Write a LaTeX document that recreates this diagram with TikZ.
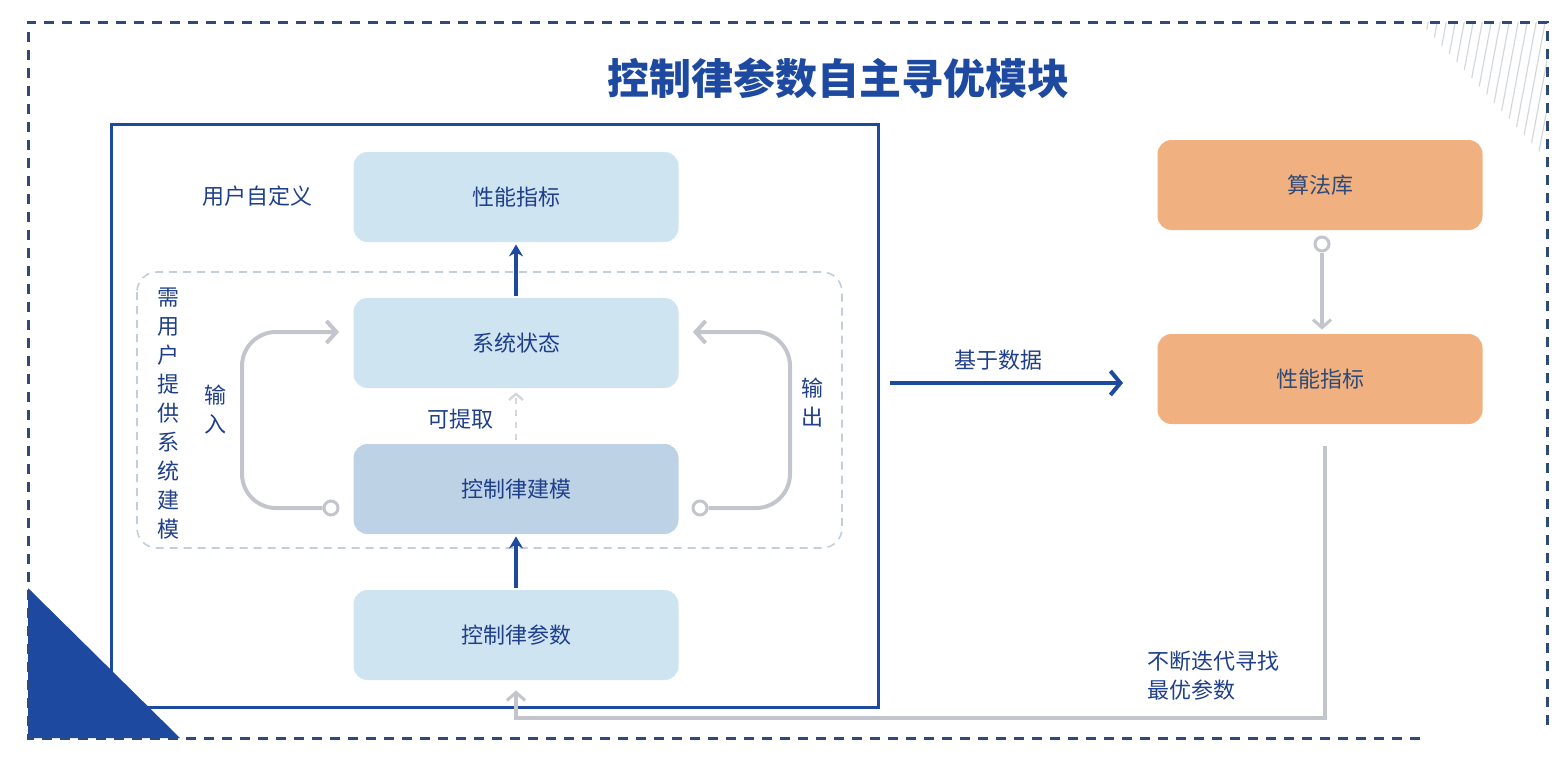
\documentclass[tikz,border=0pt]{standalone}
\usepackage{fontspec}
\setmainfont{Noto Sans CJK SC}
\usetikzlibrary{arrows.meta}
\definecolor{frameblue}{HTML}{1D4AA0}
\definecolor{edgeblue}{HTML}{2E4A78}
\definecolor{textblue}{HTML}{1F3F8A}
\definecolor{boxblue}{HTML}{CFE4F1}
\definecolor{modelblue}{HTML}{BDD3E5}
\definecolor{boxorange}{HTML}{F0B07F}
\definecolor{loopgray}{HTML}{C2C6CC}
\definecolor{zonegray}{HTML}{C2CEDB}
\tikzset{
  box/.style={fill=boxblue, rounded corners=7pt, minimum width=162.5pt, minimum height=45pt, text=textblue, font=\fontsize{11}{13}\selectfont},
  obox/.style={box, fill=boxorange, text=edgeblue},
  lbl/.style={text=textblue, font=\fontsize{11}{14.5}\selectfont, align=center, inner sep=0pt},
  dot/.style={circle, draw=loopgray, line width=1.5pt, fill=white, minimum size=7pt, inner sep=0pt},
  loop/.style={draw=loopgray, line width=2pt, rounded corners=17pt, -{Straight Barb[length=5pt,width=11pt,line width=2pt]}},
  feed/.style={draw=loopgray, line width=2pt, -{Straight Barb[length=4pt,width=9pt,line width=1.5pt]}},
  up/.style={draw=frameblue, line width=2pt, -{Stealth[length=6pt,width=7pt]}, shorten <=1pt, shorten >=1pt},
  hatch/.style={draw=loopgray!70, line width=0.6pt}
}
\begin{document}
\begin{tikzpicture}[x=0.5pt,y=-0.5pt]
\useasboundingbox (0,0) rectangle (1566,760);
\begin{scope}
\clip (1420,22) -- (1547,22) -- (1547,160) -- cycle;
\foreach \i in {0,...,16} \draw[hatch] (1420+\i*9,18) -- ++(-30,160);
\end{scope}
\fill[frameblue] (28,588) -- (28,738) -- (180,738) -- cycle;
\draw[edgeblue, line width=1.5pt, dash pattern=on 5pt off 4pt] (1420,738) -- (28,738) -- (28,22) -- (1547,22) -- (1547,728);
\draw[frameblue, line width=1.5pt] (111,124) rectangle (878,707);
\draw[zonegray, line width=0.8pt, dash pattern=on 4pt off 3pt, rounded corners=10pt] (137,272) rectangle (842,548);

\path (838,78) node[text=frameblue, font=\fontsize{21}{25}\selectfont\bfseries](title){控制律参数自主寻优模块}
  (516,197) node[box](perf){性能指标}
  (516,343) node[box](state){系统状态}
  (516,489) node[box, fill=modelblue](model){控制律建模}
  (516,635) node[box](param){控制律参数}
  (1320,185) node[obox](algo){算法库}
  (1320,379) node[obox](aperf){性能指标}
  (257,196) node[lbl](custom){用户自定义}
  (168,414) node[lbl](need){需\\用\\户\\提\\供\\系\\统\\建\\模}
  (215,410) node[lbl](in){输\\入}
  (812,403) node[lbl](out){输\\出}
  (460,419) node[lbl](extract){可提取}
  (998,360) node[lbl](data){基于数据}
  (1147,676) node[lbl, anchor=west, align=left](iter){不断迭代寻找\\最优参数};

\path (331,508) node[dot](inDot){} (700,508) node[dot](outDot){} (1322,244) node[dot](algoDot){};
\coordinate (dataS) at (890,383);
\coordinate (dataE) at (1123,383);
\coordinate (fbS) at (1325,446);
\coordinate (fbB) at (516,718);

\draw[up] (state) -- (perf);
\draw[up] (param) -- (model);
\draw[loop] (inDot.west) -- (242,508) -- (242,332) -- ([xshift=-7pt,yshift=5.5pt]state.west);
\draw[loop] (outDot.east) -- (790,508) -- (790,332) -- ([xshift=7pt,yshift=5.5pt]state.east);
\draw[loopgray!70, line width=1.2pt, dash pattern=on 3pt off 3pt, -{Straight Barb[length=3pt,width=7pt]}, shorten <=2pt, shorten >=2pt] (model) -- (state);
\draw[frameblue, line width=2pt, -{Straight Barb[length=5pt,width=12pt,line width=2pt]}] (dataS) -- (dataE);
\draw[feed, shorten >=2pt] (algoDot) -- (algoDot |- aperf.north);
\draw[feed, shorten >=5pt] (fbS) |- (fbB) -- (param.south);
\end{tikzpicture}
\end{document}
